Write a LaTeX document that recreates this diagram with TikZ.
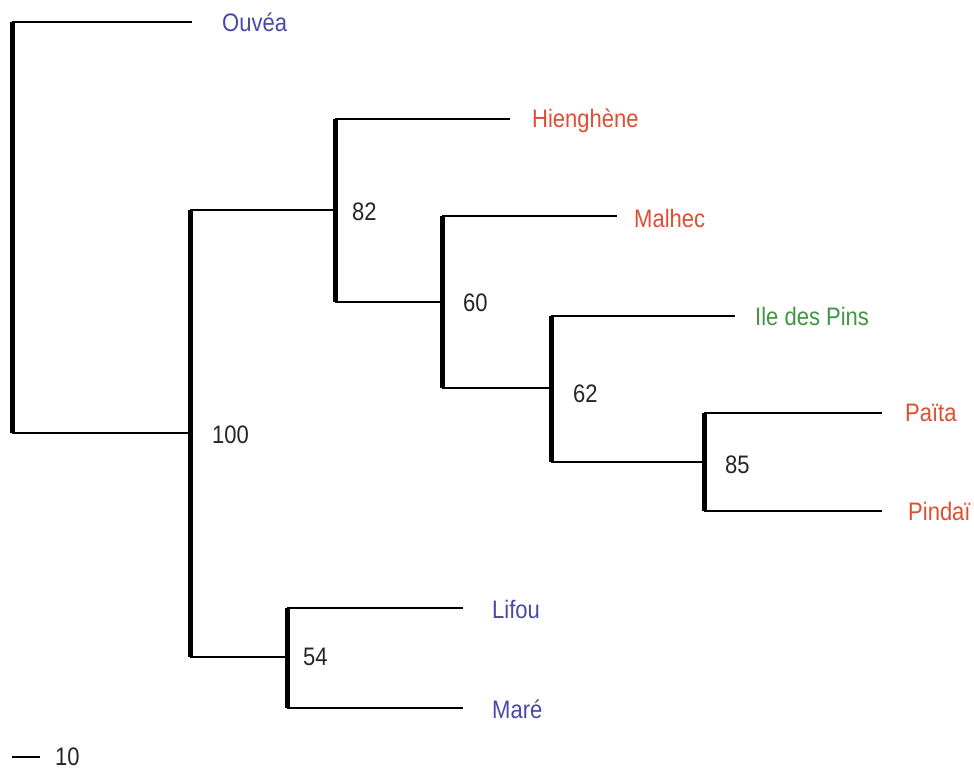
\documentclass[tikz,border=0pt]{standalone}
\usepackage{fontspec}
\setmainfont{Liberation Sans}
\definecolor{tblue}{RGB}{72,72,170}
\definecolor{tred}{RGB}{222,78,48}
\definecolor{tgreen}{RGB}{64,150,64}
\newcommand{\tall}[1]{\scalebox{1}[1.15]{#1}}
\begin{document}
\begin{tikzpicture}[x=1pt,y=-1pt,
  thin branch/.style={line width=2pt},
  thick branch/.style={line width=5pt},
  lbl/.style={anchor=west,inner sep=0pt,font=\fontsize{22}{24}\selectfont},
  boot/.style={lbl,text=black!85}]
\useasboundingbox (0,0) rectangle (974,772);
% coordinates
\coordinate (r1) at (12,22); \coordinate (r2) at (12,433);
\coordinate (a100) at (190,433); \coordinate (t100) at (190,210); \coordinate (b100) at (190,657);
\coordinate (a82) at (335,210); \coordinate (t82) at (335,119); \coordinate (b82) at (335,302);
\coordinate (a60) at (442,302); \coordinate (t60) at (442,216); \coordinate (b60) at (442,388);
\coordinate (a62) at (551,388); \coordinate (t62) at (551,316); \coordinate (b62) at (551,462);
\coordinate (a85) at (704,462); \coordinate (t85) at (704,413); \coordinate (b85) at (704,511);
\coordinate (a54) at (287,657); \coordinate (t54) at (287,608); \coordinate (b54) at (287,708);
\coordinate (eO) at (192,22);
\coordinate (eH) at (510,119);
\coordinate (eMa) at (617,216);
\coordinate (eI) at (735,316);
\coordinate (eP) at (882,413);
\coordinate (ePi) at (882,511);
\coordinate (eL) at (463,608);
\coordinate (eM) at (463,708);
\coordinate (s1) at (12,757); \coordinate (s2) at (40,757);
% verticals
\draw[thick branch] (r1) -- (r2);
\draw[thick branch] (t100) -- (b100);
\draw[thick branch] (t82) -- (b82);
\draw[thick branch] (t60) -- (b60);
\draw[thick branch] (t62) -- (b62);
\draw[thick branch] (t85) -- (b85);
\draw[thick branch] (t54) -- (b54);
% horizontals
\draw[thin branch] (r1) -- (eO);
\draw[thin branch] (r2) -- (a100);
\draw[thin branch] (t100) -- (a82);
\draw[thin branch] (b100) -- (a54);
\draw[thin branch] (t82) -- (eH);
\draw[thin branch] (b82) -- (a60);
\draw[thin branch] (t60) -- (eMa);
\draw[thin branch] (b60) -- (a62);
\draw[thin branch] (t62) -- (eI);
\draw[thin branch] (b62) -- (a85);
\draw[thin branch] (t85) -- (eP);
\draw[thin branch] (b85) -- (ePi);
\draw[thin branch] (t54) -- (eL);
\draw[thin branch] (b54) -- (eM);
\draw[thin branch] (s1) -- (s2);
% tip labels
\node[lbl,text=tblue] (lO) at (222,22) {\tall{Ouvéa}};
\node[lbl,text=tred] (lH) at (532,121) {\tall{Hienghène}};
\node[lbl,text=tred] (lMa) at (634,218) {\tall{Malhec}};
\node[lbl,text=tgreen] (lI) at (755,316) {\tall{Ile des Pins}};
\node[lbl,text=tred] (lP) at (905,413) {\tall{Païta}};
\node[lbl,text=tred] (lPi) at (908,511) {\tall{Pindaï}};
\node[lbl,text=tblue] (lL) at (492,609) {\tall{Lifou}};
\node[lbl,text=tblue] (lM) at (492,709) {\tall{Maré}};
% bootstrap labels
\node[boot] (n100) at (212,435) {\tall{100}};
\node[boot] (n82) at (352,212) {\tall{82}};
\node[boot] (n60) at (463,303) {\tall{60}};
\node[boot] (n62) at (573,394) {\tall{62}};
\node[boot] (n85) at (725,465) {\tall{85}};
\node[boot] (n54) at (303,657) {\tall{54}};
\node[boot] (n10) at (55,757) {\tall{10}};
\end{tikzpicture}
\end{document}
